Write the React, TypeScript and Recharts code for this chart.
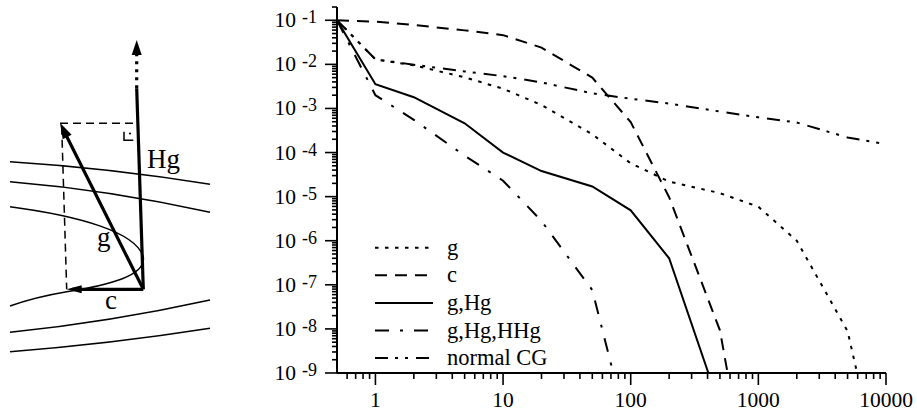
import { LineChart, Line, XAxis, YAxis, Legend } from "recharts";

// Convergence of the residual vs. iterations (log-log) and a sketch of the search directions.

const FONT = "'Liberation Serif', 'Times New Roman', serif";

const X_MAJOR = [1, 10, 100, 1000, 10000];
const X_LABELS = ["1", "10", "100", "1000", "10000"];
const Y_MAJOR = [1e-9, 1e-8, 1e-7, 1e-6, 1e-5, 1e-4, 1e-3, 1e-2, 1e-1];
const Y_EXP = ["-9", "-8", "-7", "-6", "-5", "-4", "-3", "-2", "-1"];
const MINOR = [2, 3, 4, 5, 6, 7, 8, 9];

// [iterations, residual]
const G_PTS = [
  [0.5, 0.1], [1, 1.3e-2], [2, 9.5e-3], [5, 5.1e-3], [10, 2.8e-3], [20, 1.2e-3],
  [50, 2.6e-4], [100, 5.7e-5], [200, 2.2e-5], [500, 1.2e-5], [1000, 5.9e-6],
  [2000, 1.0e-6], [5000, 8.9e-9], [5940, 1e-9],
];
const C_PTS = [
  [0.5, 0.1], [1, 0.093], [2, 0.078], [5, 0.059], [10, 0.046], [20, 0.024],
  [50, 5.0e-3], [100, 4.9e-4], [200, 9.7e-6], [500, 9.3e-9], [574, 1e-9],
];
const GHG_PTS = [
  [0.5, 0.1], [1, 3.55e-3], [2, 1.8e-3], [5, 4.6e-4], [10, 1.0e-4], [20, 3.8e-5],
  [50, 1.7e-5], [100, 4.9e-6], [200, 4.0e-7], [406, 1e-9],
];
const GHGHHG_PTS = [
  [0.5, 0.1], [1, 2.0e-3], [2, 5.5e-4], [5, 8.5e-5], [10, 2.3e-5], [20, 2.8e-6],
  [50, 7.6e-8], [73, 1e-9],
];
const CG_PTS = [
  [0.5, 0.1], [1, 1.3e-2], [2, 9.8e-3], [5, 6.9e-3], [10, 5.4e-3], [20, 3.9e-3],
  [50, 2.2e-3], [100, 1.66e-3], [200, 1.29e-3], [500, 8.5e-4], [1000, 6.3e-4],
  [2000, 4.8e-4], [5000, 2.2e-4], [10000, 1.55e-4],
];

const SERIES = [
  { name: "g", pts: G_PTS, dash: "3.5 6.5" },
  { name: "c", pts: C_PTS, dash: "12 8" },
  { name: "g,Hg", pts: GHG_PTS, dash: undefined },
  { name: "g,Hg,HHg", pts: GHGHHG_PTS, dash: "14 11 3 11" },
  { name: "normal CG", pts: CG_PTS, dash: "13 7 3 7 3 8" },
];

const X_TICKS: number[] = [0.6, 0.7, 0.8, 0.9];
[1, 10, 100, 1000].forEach((d) => {
  X_TICKS.push(d);
  MINOR.forEach((m) => X_TICKS.push(d * m));
});
X_TICKS.push(10000);

const Y_TICKS: number[] = [];
Y_MAJOR.slice(0, -1).forEach((d) => {
  Y_TICKS.push(d);
  MINOR.forEach((m) => Y_TICKS.push(d * m));
});
Y_TICKS.push(0.1, 0.2);

function XTick({ x, y, payload }: any) {
  const i = X_MAJOR.indexOf(payload.value);
  const major = i >= 0;
  return (
    <g>
      <line x1={x} x2={x} y1={y} y2={y + (major ? 12 : 6)} stroke="#000" strokeWidth={1.6} />
      {major && (
        <text x={x} y={y + 33.5} textAnchor="middle" fontSize={21.5} fontFamily={FONT} fill="#000">
          {X_LABELS[i]}
        </text>
      )}
    </g>
  );
}

function YTick({ x, y, payload }: any) {
  const i = Y_MAJOR.indexOf(payload.value);
  const major = i >= 0;
  return (
    <g>
      <line x1={x - (major ? 12 : 5)} x2={x} y1={y} y2={y} stroke="#000" strokeWidth={1.6} />
      {major && (
        <text x={x - 20} y={y + 7} textAnchor="end" fontSize={21.5} fontFamily={FONT} fill="#000">
          <tspan>10</tspan>
          <tspan dx={6} dy={-4} fontSize={18}>{Y_EXP[i]}</tspan>
        </text>
      )}
    </g>
  );
}

// legend rows keep the series order (Recharts would sort them by name)
function LegendBox() {
  return (
    <svg width={240} height={140} style={{ display: "block" }}>
      {SERIES.map((s, k) => {
        const cy = 15.7 + k * 27.6;
        return (
          <g key={s.name}>
            <line x1={5} x2={63} y1={cy} y2={cy} stroke="#000" strokeWidth={2} strokeDasharray={s.dash} />
            <text x={77} y={cy + 7} fontSize={22.5} fontFamily={FONT} fill="#000">{s.name}</text>
          </g>
        );
      })}
    </svg>
  );
}

function head(tx: number, ty: number, fx: number, fy: number, len: number, half: number) {
  const dx = tx - fx, dy = ty - fy;
  const l = Math.hypot(dx, dy);
  const ux = dx / l, uy = dy / l;
  const bx = tx - ux * len, by = ty - uy * len;
  return `${tx},${ty} ${bx - uy * half},${by + ux * half} ${bx + uy * half},${by - ux * half}`;
}

function Sketch() {
  const ox = 143.3, oy = 289.3;
  return (
    <svg width={240} height={412} style={{ position: "absolute", left: 0, top: 0, pointerEvents: "none" }}>
      <g fill="none" stroke="#000" strokeWidth={1.5}>
        <path d="M10,161.7 Q110,168 210,184.3" />
        <path d="M10,181.7 Q110,190 210,212.3" />
        <path d="M10,206.7 C80,216 135,232 143,256 C148,275 110,285 66.7,291.7 Q35,297 10,306" />
        <path d="M10,332.3 Q110,322 210,300" />
        <path d="M10,351.7 Q110,344 210,328.3" />
        <path d="M60,123.3 H136.7" strokeDasharray="8 5" />
        <path d="M61.7,126.7 L66.7,289.3" strokeDasharray="8 5" />
        <path d="M124,131.7 V140.3 H133.3" />
      </g>
      <circle cx={130} cy={133.5} r={1.1} fill="#000" />
      <g stroke="#000" strokeWidth={3.2} fill="none">
        <line x1={ox} y1={oy} x2={136.7} y2={88.3} />
        <line x1={136.7} y1={88.3} x2={136.7} y2={55} strokeDasharray="3 5" />
        <line x1={ox} y1={oy} x2={64} y2={131} />
        <line x1={ox} y1={oy} x2={72} y2={oy} />
      </g>
      <polygon points={head(136.7, 40, 136.7, 60, 15, 5)} fill="#000" />
      <polygon points={head(60, 122.7, ox, oy, 16, 5)} fill="#000" />
      <polygon points={head(66.7, oy, ox, oy, 15, 4)} fill="#000" />
      <g fontFamily={FONT} fontSize={27} fill="#000">
        <text x={147} y={168}>Hg</text>
        <text x={97} y={246}>g</text>
        <text x={105} y={309}>c</text>
      </g>
    </svg>
  );
}

export default function App() {
  return (
    <div style={{ position: "absolute", left: 0, top: 0, width: 917, height: 412, background: "#fff" }}>
      <LineChart width={917} height={412} margin={{ top: 7, right: 31, left: 257, bottom: 0 }}>
        <XAxis
          type="number"
          dataKey="x"
          scale="log"
          domain={[0.5, 10000]}
          allowDataOverflow
          ticks={X_TICKS}
          interval={0}
          tick={<XTick />}
          tickLine={false}
          tickSize={0}
          tickMargin={0}
          height={39}
          axisLine={{ stroke: "#000", strokeWidth: 2 }}
        />
        <YAxis
          type="number"
          dataKey="y"
          scale="log"
          domain={[1e-9, 0.2]}
          allowDataOverflow
          ticks={Y_TICKS}
          interval={0}
          tick={<YTick />}
          tickLine={false}
          tickSize={0}
          tickMargin={0}
          width={80}
          axisLine={{ stroke: "#000", strokeWidth: 2 }}
        />
        <Legend
          layout="vertical"
          align="center"
          verticalAlign="middle"
          content={<LegendBox />}
          wrapperStyle={{ left: 370, top: 232, width: 240, height: 140 }}
        />
        {SERIES.map((s) => (
          <Line
            key={s.name}
            name={s.name}
            data={s.pts.map(([x, y]) => ({ x, y }))}
            dataKey="y"
            stroke="#000"
            strokeWidth={2}
            strokeDasharray={s.dash}
            dot={false}
            activeDot={false}
            isAnimationActive={false}
          />
        ))}
      </LineChart>
      <Sketch />
    </div>
  );
}
